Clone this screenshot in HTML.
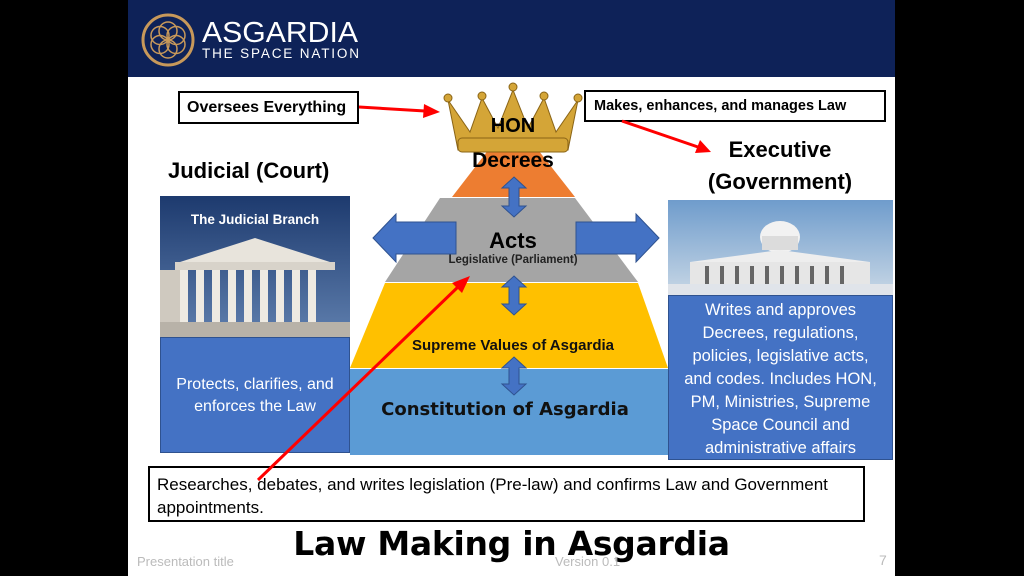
<!DOCTYPE html>
<html><head><meta charset="utf-8"><style>
body{margin:0;width:1024px;height:576px;background:#000;position:relative;overflow:hidden;font-family:"Liberation Sans",sans-serif}
.slide{position:absolute;left:128px;top:0;width:767px;height:576px;background:#fff}
.hdr{position:absolute;left:128px;top:0;width:767px;height:77px;background:#0e2258}
.abs{position:absolute}
.box{position:absolute;border:2px solid #000;background:#fff;box-sizing:border-box}
.blue{position:absolute;background:#4472c4;color:#fff;text-align:center;border:1px solid #2f528f;box-sizing:border-box}
</style></head><body>
<div class="slide"></div>
<div class="hdr"></div>
<svg class="abs" style="left:0;top:0" width="1024" height="576">
 <circle cx="168" cy="40" r="25" fill="none" stroke="#c8995a" stroke-width="3"/>
 <g fill="none" stroke="#c8995a" stroke-width="1.5">
  <circle cx="168" cy="31" r="9"/><circle cx="168" cy="49" r="9"/>
  <circle cx="160" cy="35.5" r="9"/><circle cx="176" cy="35.5" r="9"/>
  <circle cx="160" cy="44.5" r="9"/><circle cx="176" cy="44.5" r="9"/>
 </g>
 <text x="202" y="42" fill="#fff" font-size="29" font-family="Liberation Sans" textLength="156" lengthAdjust="spacingAndGlyphs">ASGARDIA</text>
 <text x="202" y="58" fill="#fff" font-size="13.5" font-family="Liberation Sans" textLength="157" lengthAdjust="spacing">THE SPACE NATION</text>
 <rect x="350" y="369" width="318" height="86" fill="#5b9bd5"/>
 <polygon points="385,283 638,283 668,368 350,368" fill="#ffc000"/>
 <polygon points="440,198 575,198 638,282 385,282" fill="#a5a5a5"/>
 <polygon points="513,118 575,197 452,197" fill="#ed7d31"/>
 <g fill="#d4a537" stroke="#8a6416" stroke-width="1">
  <path d="M448,100 L470,132 L482,98 L498,128 L513,90 L528,128 L544,98 L556,132 L578,100 L568,150 L458,150 Z"/>
  <circle cx="448" cy="98" r="4"/><circle cx="482" cy="96" r="4"/><circle cx="513" cy="87" r="4"/><circle cx="544" cy="96" r="4"/><circle cx="578" cy="98" r="4"/>
  <rect x="458" y="138" width="110" height="14" rx="4"/>
 </g>
 <text x="513" y="132" text-anchor="middle" font-size="20" font-weight="bold" fill="#000">HON</text>
 <text x="513" y="167" text-anchor="middle" font-size="21" font-weight="bold" fill="#000">Decrees</text>
 <text x="513" y="248" text-anchor="middle" font-size="22" font-weight="bold" fill="#000">Acts</text>
 <text x="513" y="263" text-anchor="middle" font-size="11.5" font-weight="bold" fill="#222">Legislative (Parliament)</text>
 <text x="513" y="350" text-anchor="middle" font-size="15" font-weight="bold" fill="#111">Supreme Values of Asgardia</text>
 <text x="505" y="415" text-anchor="middle" font-size="18" font-weight="900" fill="#111" font-family="DejaVu Sans">Constitution of Asgardia</text>
 <g fill="#4472c4" stroke="#2f528f" stroke-width="1">
  <polygon points="514,177 526,188 519,188 519,206 526,206 514,217 502,206 509,206 509,188 502,188"/>
  <polygon points="514,276 526,287 519,287 519,304 526,304 514,315 502,304 509,304 509,287 502,287"/>
  <polygon points="514,357 526,368 519,368 519,384 526,384 514,395 502,384 509,384 509,368 502,368"/>
  <polygon points="373,238 396,214 396,222 456,222 456,254 396,254 396,262" />
  <polygon points="659,238 636,214 636,222 576,222 576,254 636,254 636,262" />
 </g>
 <defs>
  <linearGradient id="sky1" x1="0" y1="0" x2="0" y2="1"><stop offset="0" stop-color="#1d3a6e"/><stop offset="1" stop-color="#5f7fae"/></linearGradient>
  <linearGradient id="sky2" x1="0" y1="0" x2="0" y2="1"><stop offset="0" stop-color="#6f9ccc"/><stop offset="1" stop-color="#c9d8e6"/></linearGradient>
 </defs>
 <rect x="160" y="196" width="190" height="142" fill="url(#sky1)"/>
 <polygon points="180,262 255,238 330,262" fill="#e8e4dc"/>
 <rect x="175" y="262" width="160" height="8" fill="#d8d3ca"/>
 <g fill="#eeeae2"><rect x="180" y="270" width="8" height="52"/><rect x="196" y="270" width="8" height="52"/><rect x="212" y="270" width="8" height="52"/><rect x="228" y="270" width="8" height="52"/><rect x="244" y="270" width="8" height="52"/><rect x="260" y="270" width="8" height="52"/><rect x="276" y="270" width="8" height="52"/><rect x="292" y="270" width="8" height="52"/><rect x="308" y="270" width="8" height="52"/></g>
 <rect x="160" y="270" width="20" height="60" fill="#cfc9bf"/>
 <rect x="160" y="322" width="190" height="16" fill="#b8b2a8"/>
 <text x="255" y="224" text-anchor="middle" fill="#fff" font-size="13.5" font-weight="bold">The Judicial Branch</text>
 <rect x="668" y="200" width="225" height="96" fill="url(#sky2)"/>
 <ellipse cx="780" cy="237" rx="20" ry="16" fill="#f2f2f2"/>
 <rect x="762" y="236" width="36" height="14" fill="#dcdcdc"/>
 <polygon points="690,262 780,250 870,262" fill="#eeeeee"/>
 <rect x="690" y="262" width="180" height="24" fill="#e6e6e6"/>
 <g fill="#666"><rect x="705" y="266" width="4" height="18"/><rect x="720" y="266" width="4" height="18"/><rect x="735" y="266" width="4" height="18"/><rect x="750" y="266" width="4" height="18"/><rect x="765" y="266" width="4" height="18"/><rect x="780" y="266" width="4" height="18"/><rect x="795" y="266" width="4" height="18"/><rect x="810" y="266" width="4" height="18"/><rect x="825" y="266" width="4" height="18"/><rect x="840" y="266" width="4" height="18"/></g>
 <rect x="668" y="284" width="225" height="12" fill="#e0e4ea"/>
</svg>
<div class="blue" style="left:160px;top:337px;width:190px;height:116px;font-size:16px;line-height:22px;padding-top:36px">Protects, clarifies, and<br>enforces the Law</div>
<div class="blue" style="left:668px;top:295px;width:225px;height:165px;font-size:16.5px;line-height:23px;padding-top:3px">Writes and approves<br>Decrees, regulations,<br>policies, legislative acts,<br>and codes. Includes HON,<br>PM, Ministries, Supreme<br>Space Council and<br>administrative affairs</div>
<div class="box" style="left:178px;top:91px;width:181px;height:33px;font-size:16px;font-weight:bold;padding:6px 0 0 7px">Oversees Everything</div>
<div class="box" style="left:584px;top:90px;width:302px;height:32px;font-size:14.5px;font-weight:bold;padding:6px 0 0 8px">Makes, enhances, and manages Law</div>
<div class="abs" style="left:168px;top:158px;font-size:22px;font-weight:bold">Judicial (Court)</div>
<div class="abs" style="left:700px;top:134px;width:160px;text-align:center;font-size:22px;font-weight:bold;line-height:32px">Executive<br>(Government)</div>
<div class="box" style="left:148px;top:466px;width:717px;height:56px;font-size:17px;line-height:23px;padding:5px 0 0 7px">Researches, debates, and writes legislation (Pre-law) and confirms Law and Government appointments.</div>
<div class="abs" style="left:128px;top:524px;width:767px;text-align:center;font-size:33px;font-weight:900;font-family:'DejaVu Sans',sans-serif;letter-spacing:-0.3px">Law Making in Asgardia</div>
<div class="abs" style="left:137px;top:554px;font-size:13px;color:#bbb">Presentation title</div>
<div class="abs" style="left:555px;top:554px;font-size:13px;color:#bbb">Version 0.1</div>
<div class="abs" style="left:879px;top:552px;font-size:14px;color:#bbb">7</div>
<svg class="abs" style="left:0;top:0" width="1024" height="576">
 <g stroke="#ff0000" stroke-width="3" fill="#ff0000">
  <line x1="359" y1="107" x2="425" y2="111"/><polygon points="440,112 424,104 423,118" stroke="none"/>
  <line x1="622" y1="121" x2="698" y2="147"/><polygon points="711,152 700,140 695,153" stroke="none"/>
  <line x1="258" y1="480" x2="460" y2="285"/><polygon points="470,276 452,283 462,293" stroke="none"/>
 </g>
</svg>
</body></html>
